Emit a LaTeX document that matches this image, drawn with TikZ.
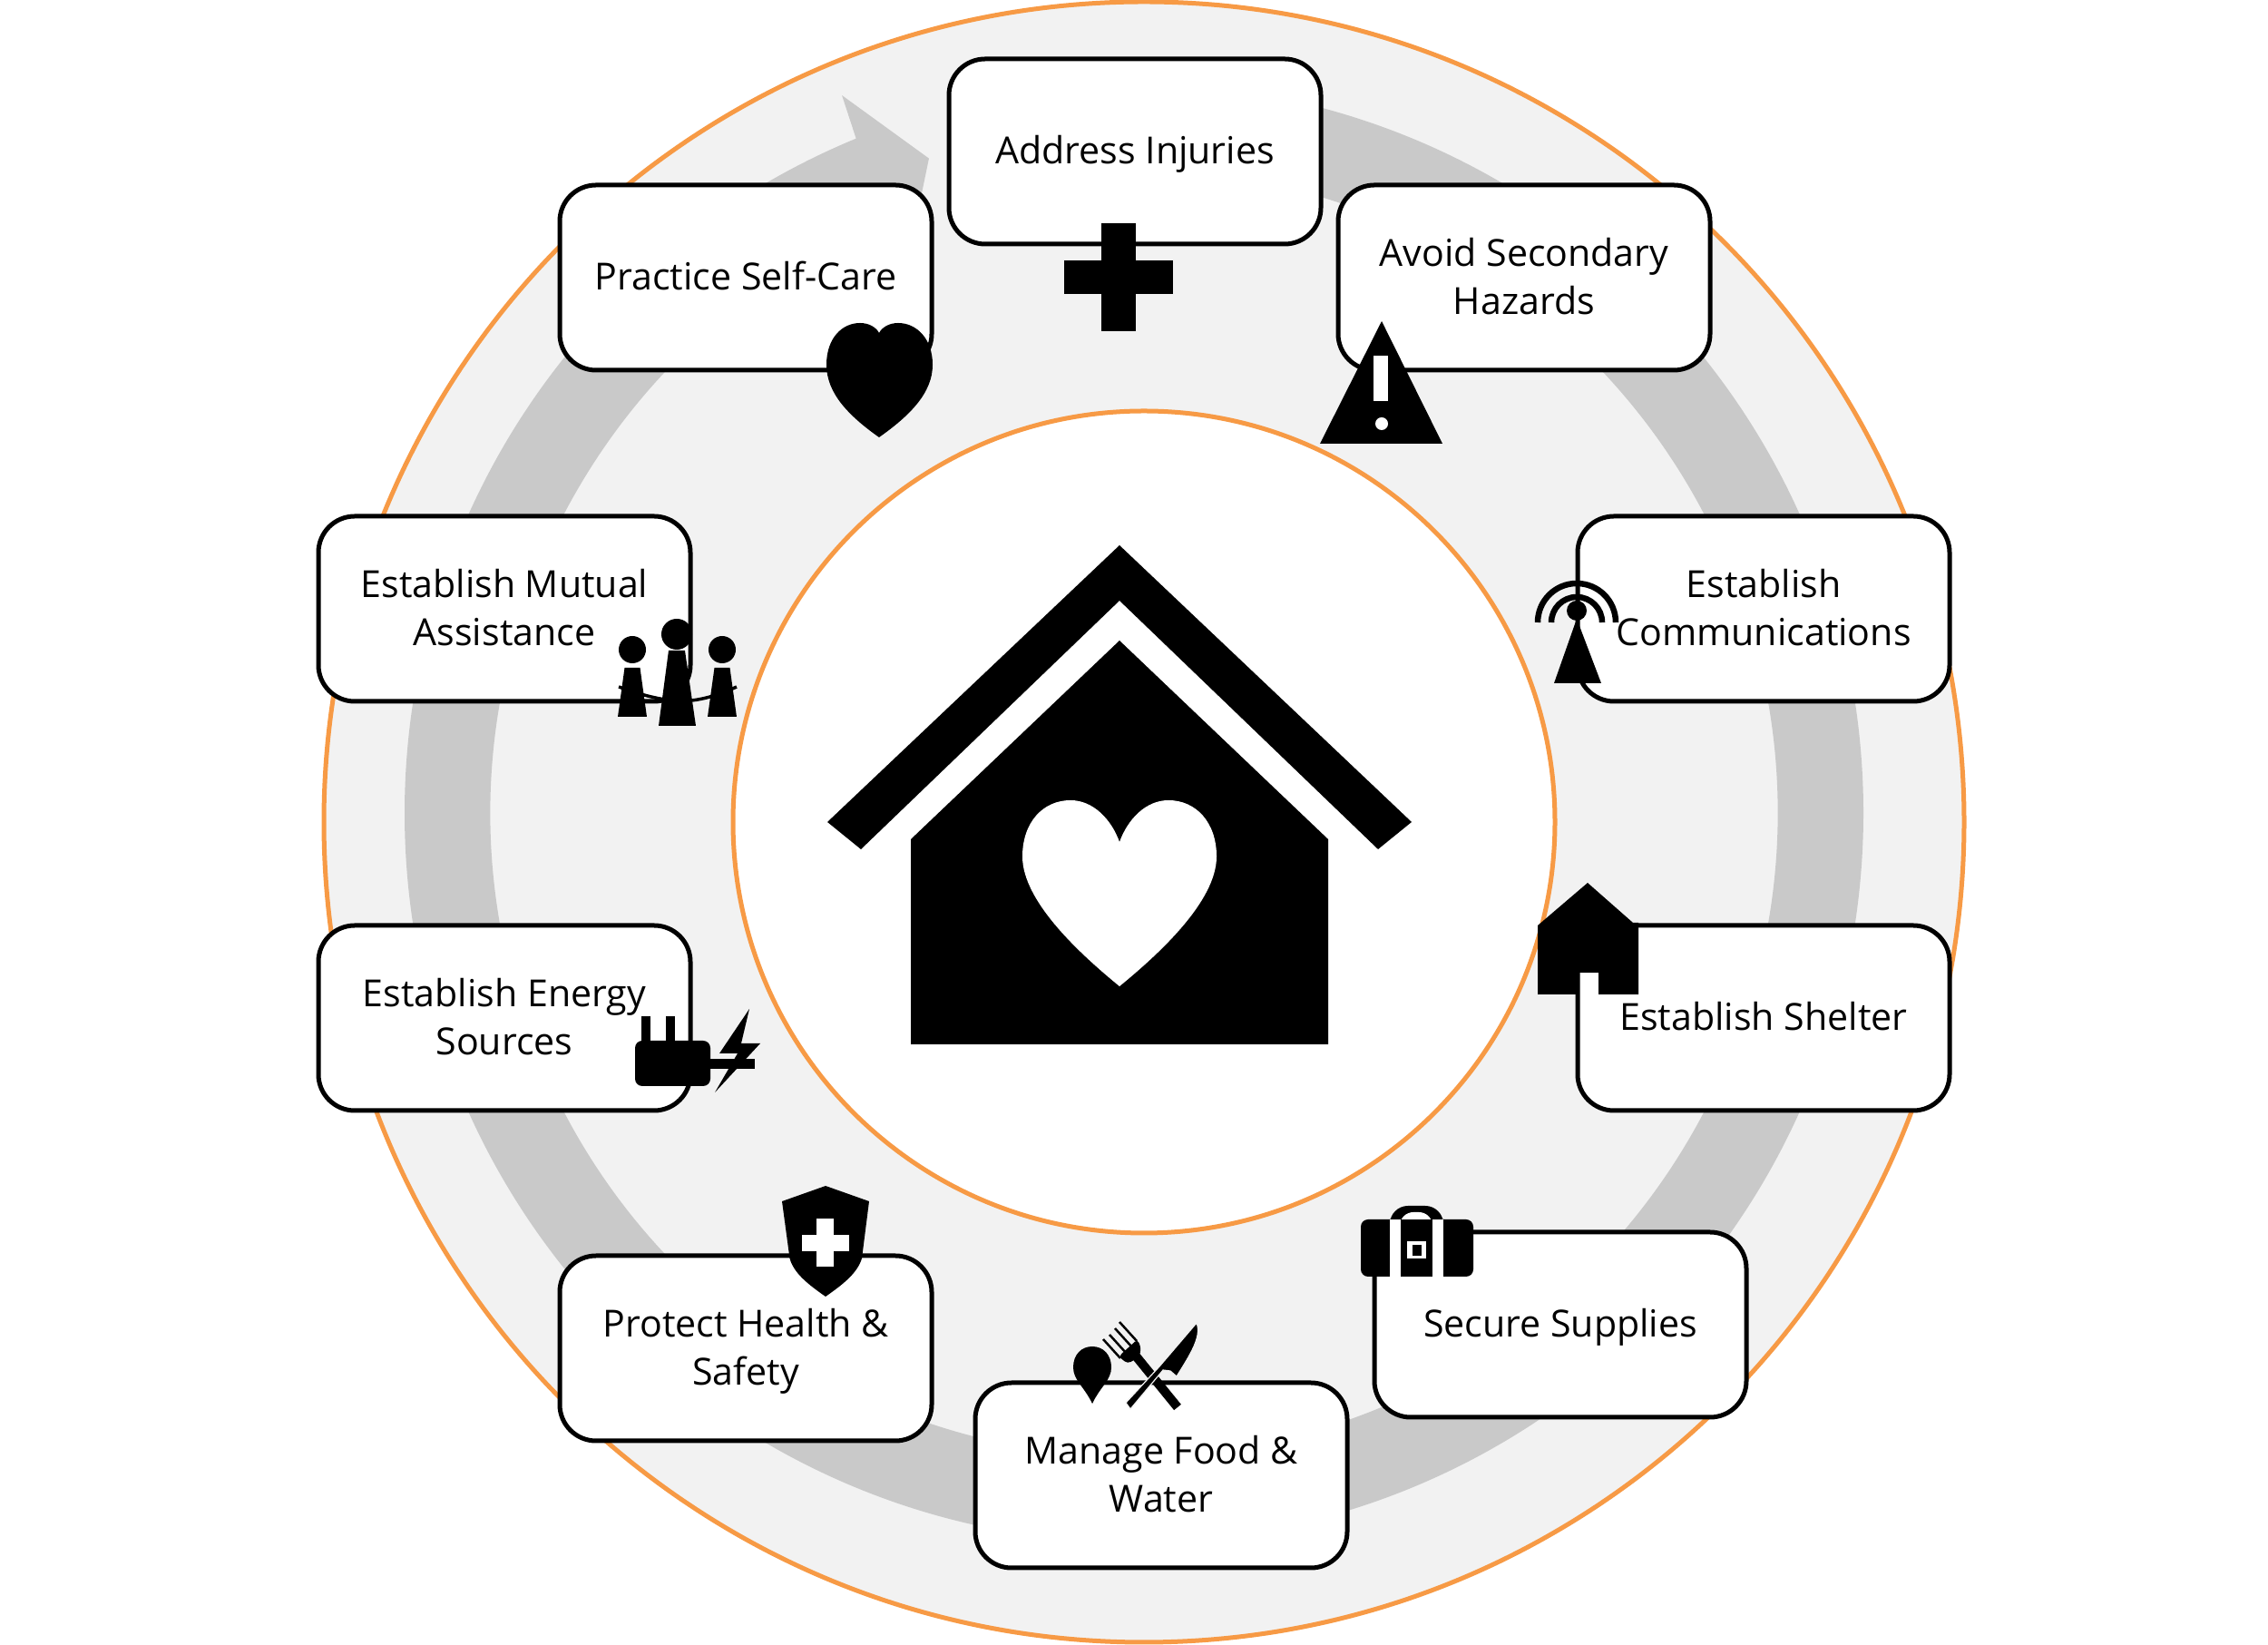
\documentclass[tikz,border=0pt]{standalone}
\usepackage{fontspec}
\setmainfont{Open Sans}
\definecolor{RingGray}{HTML}{F2F2F2}
\definecolor{BandGray}{HTML}{C9C9C9}
\definecolor{RimOrange}{HTML}{F79A45}
\usetikzlibrary{positioning}

\begin{document}
\begin{tikzpicture}[
  rim/.style={draw=RimOrange, line width=0.05cm},
  stepbox/.style={rectangle, draw=black, fill=white, rounded corners=0.4cm,
                  line width=0.05cm, minimum width=4.10cm, minimum height=2.04cm,
                  inner sep=0pt, align=center, font=\fontsize{11.7}{15}\selectfont,
                  execute at begin node=\rule{0pt}{12.3pt}, execute at end node=\strut},
  twoline/.style={stepbox, text depth=0.9pt},
  icon/.style={fill=black, draw=none},
  hole/.style={fill=white, draw=none},
]
\useasboundingbox (0,0) rectangle (25,18.13);

\filldraw[rim, fill=RingGray] (12.61,9.07) circle (9.04);
\begin{scope}[shift={(12.50,9.17)}]
  \fill[BandGray] (90:8.04) arc[start angle=90, end angle=-247.6, radius=8.04]
    -- (112.15:8.54) -- (107.4:7.56) -- (112.15:6.60) -- (112.4:7.095)
    arc[start angle=-247.6, end angle=90, radius=7.095] -- cycle;
\end{scope}
\filldraw[rim, fill=white] (12.61,9.07) circle (4.53);

\node[stepbox] (injuries) at (12.51,16.46) {Address Injuries};
\node[twoline] (hazards) at (16.80,15.07) {Avoid Secondary\\Hazards};
\node[twoline] (comms) at (19.44,11.42) {Establish\\Communications};
\node[stepbox] (shelter) at (19.44,6.91) {Establish Shelter};
\node[stepbox] (supplies) at (17.20,3.53) {Secure Supplies};
\node[twoline] (food) at (12.80,1.87) {Manage Food \&\\Water};
\node[twoline] (health) at (8.22,3.27) {Protect Health \&\\Safety};
\node[twoline] (energy) at (5.56,6.91) {Establish Energy\\Sources};
\node[twoline] (mutual) at (5.56,11.42) {Establish Mutual\\Assistance};
\node[stepbox] (selfcare) at (8.22,15.07) {Practice Self-Care};

% center house
\fill[icon] (12.34,12.12) -- (15.56,9.07) -- (15.19,8.77) -- (12.34,11.51)
  -- (9.49,8.77) -- (9.12,9.07) -- cycle;
\fill[icon] (12.34,11.07) -- (14.64,8.88) -- (14.64,6.62) -- (10.04,6.62) -- (10.04,8.88) -- cycle;
\fill[hole] (12.34,7.26) .. controls (11.90,7.62) and (11.27,8.20) .. (11.27,8.69)
  .. controls (11.27,9.07) and (11.50,9.31) .. (11.80,9.31)
  .. controls (12.05,9.31) and (12.25,9.10) .. (12.34,8.85)
  .. controls (12.43,9.10) and (12.63,9.31) .. (12.88,9.31)
  .. controls (13.18,9.31) and (13.41,9.07) .. (13.41,8.69)
  .. controls (13.41,8.20) and (12.78,7.62) .. (12.34,7.26) -- cycle;

% cross
\fill[icon] (12.14,15.67) rectangle (12.52,14.48);
\fill[icon] (11.73,15.26) rectangle (12.93,14.89);

% warning sign
\fill[icon] (15.23,14.59) -- (15.90,13.24) -- (14.55,13.24) -- cycle;
\fill[hole] (15.14,14.21) rectangle (15.30,13.71);
\fill[hole] (15.23,13.46) circle (0.07);

% antenna
\fill[icon] (17.38,11.31) -- (17.65,10.60) -- (17.13,10.60) -- cycle;
\fill[icon] (17.38,11.40) circle (0.11);
\foreach \r in {0.28,0.43} {
  \draw[line width=0.065cm] (17.38-\r,11.27) arc[start angle=180, end angle=0, radius=\r];
}

% small house
\fill[icon] (17.50,8.40) -- (18.00,7.96) -- (18.06,7.96) -- (18.06,7.17) -- (17.62,7.17) -- (17.62,7.41)
  -- (17.38,7.41) -- (17.38,7.17) -- (16.95,7.17) -- (16.95,7.93) -- cycle;

% suitcase
\fill[icon, rounded corners=0.08cm] (15.00,4.06) rectangle (16.24,4.69);
\fill[icon, rounded corners=0.2cm] (15.32,4.50) -- (15.32,4.84) -- (15.91,4.84) -- (15.91,4.50) -- cycle;
\fill[hole, rounded corners=0.15cm] (15.43,4.50) -- (15.43,4.77) -- (15.79,4.77) -- (15.79,4.50) -- cycle;
\fill[icon] (15.43,4.50) rectangle (15.79,4.69);
\foreach \x in {15.32,15.79} {
  \fill[hole] (\x,4.06) rectangle (\x+0.115,4.69);
}
\fill[hole] (15.51,4.26) rectangle (15.72,4.45);
\fill[icon] (15.57,4.29) rectangle (15.67,4.41);

% spoon, fork, knife
\fill[icon] (12.04,2.66) .. controls (11.95,2.85) and (11.83,2.92) .. (11.83,3.06)
  .. controls (11.83,3.20) and (11.92,3.29) .. (12.04,3.29)
  .. controls (12.16,3.29) and (12.25,3.20) .. (12.25,3.06)
  .. controls (12.25,2.92) and (12.13,2.85) .. (12.04,2.66) -- cycle;
\foreach \x/\y in {12.16/3.37,12.23/3.42,12.29/3.49,12.34/3.56} {
  \draw[line width=0.025cm] (\x,\y) -- (\x+0.19,\y-0.21);
}
\fill[icon, rounded corners=0.04cm] (12.33,3.18) -- (12.54,3.37) -- (12.58,3.26) -- (12.55,3.17) -- (12.43,3.10) -- cycle;
\draw[line width=0.1cm] (12.50,3.21) -- (12.98,2.62);
\filldraw[fill=black, draw=RingGray, line width=0.012cm] (13.19,3.55) .. controls (13.25,3.40) and (13.12,3.20) .. (12.97,2.96)
  -- (12.90,3.02) -- (12.82,3.03) -- (12.46,2.60) -- (12.41,2.67) -- (12.78,3.07) -- cycle;

% shield
\fill[icon] (9.10,5.06) -- (9.58,4.89) -- (9.50,4.26) .. controls (9.45,4.10) and (9.30,3.98) .. (9.10,3.84)
  .. controls (8.90,3.98) and (8.75,4.10) .. (8.705,4.26) -- (8.62,4.89) -- cycle;
\fill[hole] (9.00,4.17) rectangle (9.19,4.70);
\fill[hole] (8.84,4.34) rectangle (9.36,4.52);

% energy
\fill[icon, rounded corners=0.08cm] (7.00,6.16) rectangle (7.83,6.66);
\fill[icon] (7.07,6.60) rectangle (7.17,6.93);
\fill[icon] (7.34,6.60) rectangle (7.44,6.93);
\fill[icon] (7.80,6.35) rectangle (8.32,6.46);
\fill[icon] (8.26,7.01) -- (8.17,6.63) -- (8.38,6.63) -- (7.88,6.09)
  -- (8.13,6.52) -- (7.93,6.52) -- cycle;

% people
\draw[line width=0.035cm] (6.82,10.56) .. controls (7.00,10.50) and (7.15,10.44) .. (7.46,10.40)
  .. controls (7.70,10.40) and (7.90,10.46) .. (8.12,10.56);
\foreach \x in {6.97,7.96} {
  \fill[icon] (\x,10.97) circle (0.15);
  \fill[icon] (\x-0.085,10.77) -- (\x+0.085,10.77) -- (\x+0.16,10.23) -- (\x-0.16,10.23) -- cycle;
}
\fill[icon] (7.46,11.14) circle (0.17);
\fill[icon] (7.37,10.96) -- (7.55,10.96) -- (7.67,10.13) -- (7.26,10.13) -- cycle;

% heart
\fill[icon] (9.69,13.31) .. controls (9.35,13.55) and (9.11,13.80) .. (9.11,14.11)
  .. controls (9.11,14.40) and (9.28,14.57) .. (9.48,14.57)
  .. controls (9.58,14.57) and (9.66,14.52) .. (9.69,14.46)
  .. controls (9.72,14.52) and (9.80,14.57) .. (9.90,14.57)
  .. controls (10.10,14.57) and (10.28,14.40) .. (10.28,14.11)
  .. controls (10.28,13.80) and (10.03,13.55) .. (9.69,13.31) -- cycle;
\end{tikzpicture}
\end{document}
